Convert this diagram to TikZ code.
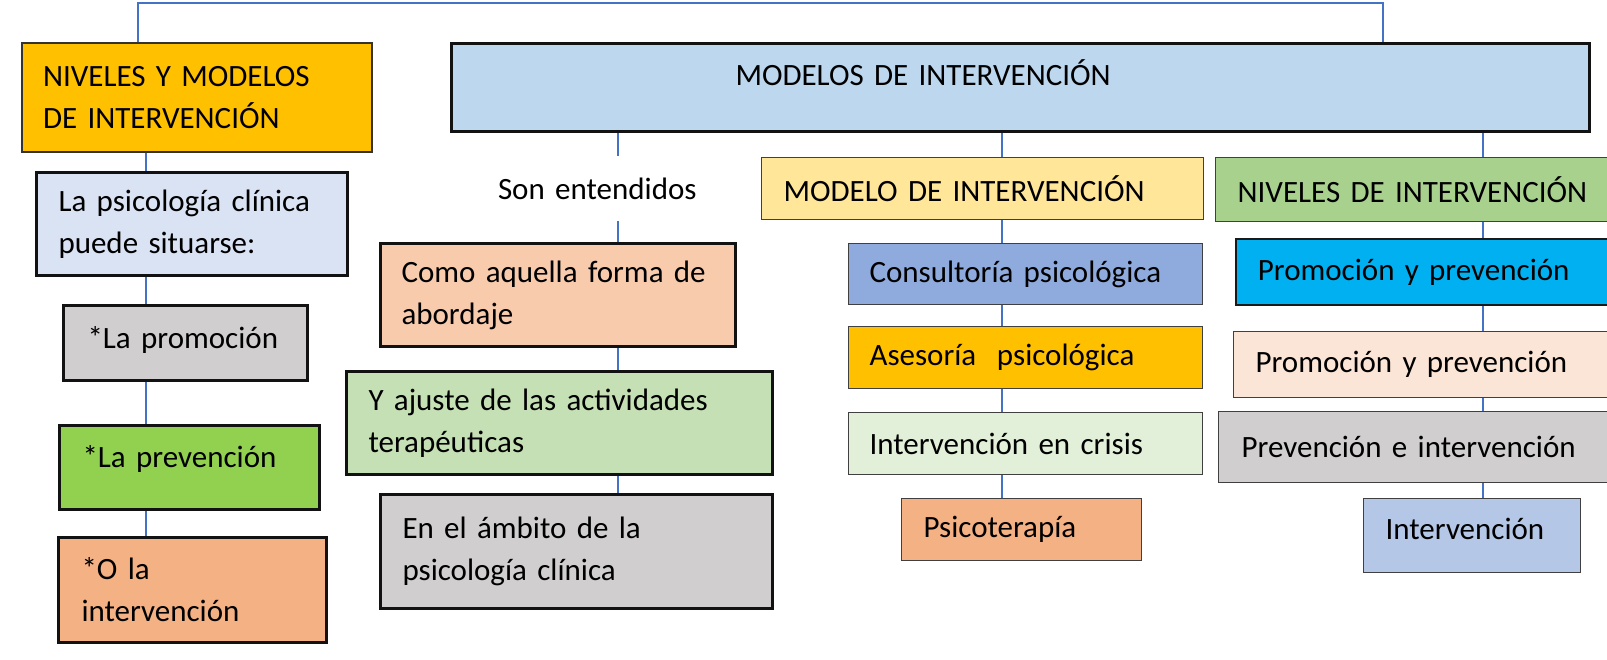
\documentclass[tikz,border=0pt]{standalone}
\usepackage{fontspec}
\setmainfont{Carlito}
\definecolor{linkblue}{HTML}{4472C4}
\definecolor{gold}{HTML}{FFC000}
\definecolor{paleblue}{HTML}{DAE3F3}
\definecolor{greybox}{HTML}{D0CECE}
\definecolor{limegreen}{HTML}{92D050}
\definecolor{salmon}{HTML}{F4B183}
\definecolor{skyblue}{HTML}{BDD7EE}
\definecolor{peach}{HTML}{F8CBAD}
\definecolor{sagegreen}{HTML}{C5E0B4}
\definecolor{butter}{HTML}{FFE699}
\definecolor{steelblue}{HTML}{8FAADC}
\definecolor{mintgreen}{HTML}{E2F0D9}
\definecolor{leafgreen}{HTML}{A9D18E}
\definecolor{cyanbox}{HTML}{00B0F0}
\definecolor{blush}{HTML}{FBE5D6}
\definecolor{lavblue}{HTML}{B4C7E7}
\tikzset{
  box/.style={rectangle, anchor=north west, align=left, inner ysep=0pt, fill=#1,
    font=\fontsize{15.5pt}{21pt}\selectfont},
  heavy/.style={box=#1, draw=black!93, line width=1.5pt},
  light/.style={box=#1, draw=black!75, line width=0.6pt},
  link/.style={draw=linkblue, line width=0.75pt},
}
\begin{document}
\begin{tikzpicture}[x=0.5pt,y=-0.5pt]
\clip (0,0) rectangle (1607,659);
% left column
\node[box=gold, draw=black!80, line width=1pt, inner xsep=10.5pt, minimum height=54.5pt, text width=154pt] (nivmod) at (21,42) {NIVELES Y MODELOS\\DE INTERVENCIÓN};
\node[heavy=paleblue, inner xsep=11pt, minimum height=51.5pt, text width=133.5pt] (psico) at (35,171) {La psicología clínica\\puede situarse:};
\node[heavy=greybox, inner xsep=12pt, minimum height=37.5pt, text width=98pt, text depth=6pt] (promo) at (62,304) {*La promoción};
\node[heavy=limegreen, inner xsep=11.5pt, minimum height=42pt, text width=107pt, text depth=11pt] (preve) at (58,424) {*La prevención};
\node[heavy=salmon, inner xsep=11.5pt, minimum height=52.5pt, text width=111pt] (inter) at (57,536) {*O la\\intervención};
% main box
\node[heavy=skyblue, inner xsep=142pt, minimum height=44pt, text width=285pt, text depth=15pt] (modelos) at (450,42) {MODELOS DE INTERVENCIÓN};
% middle column
\node[align=left, text width=120pt, minimum height=32.5pt, inner sep=0pt, font=\fontsize{15.5pt}{21pt}\selectfont] (son) at (618,188.5) {Son entendidos};
\node[heavy=peach, inner xsep=10.5pt, minimum height=51.5pt, text width=156.5pt] (como) at (379,242) {Como aquella forma de\\abordaje};
\node[heavy=sagegreen, inner xsep=11pt, minimum height=51.5pt, text width=191pt] (ajuste) at (345,370) {Y ajuste de las actividades\\terapéuticas};
\node[heavy=greybox, inner xsep=11pt, minimum height=57pt, text width=174pt] (ambito) at (379,493) {En el ámbito de la\\psicología clínica};
% model column
\node[light=butter, inner xsep=11pt, minimum height=31pt, text width=199pt] (modelo) at (761,157) {MODELO DE INTERVENCIÓN};
\node[light=steelblue, inner xsep=10.5pt, minimum height=30.5pt, text width=156pt] (consul) at (848,243) {Consultoría psicológica};
\node[light=gold, inner xsep=10.5pt, minimum height=31pt, text width=156pt] (asesor) at (848,326) {Asesoría~ psicológica};
\node[light=mintgreen, inner xsep=10.5pt, minimum height=31pt, text width=156pt] (crisis) at (848,412) {Intervención en crisis};
\node[light=salmon, inner xsep=11pt, minimum height=31pt, text width=98pt] (psicot) at (901,498) {Psicoterapía};
% levels column
\node[light=leafgreen, inner xsep=11pt, minimum height=32pt, text width=190.5pt] (niveles) at (1215,157) {NIVELES DE INTERVENCIÓN};
\node[box=cyanbox, draw=black!90, line width=0.9pt, inner xsep=11pt, minimum height=33pt, text width=180.5pt] (promoA) at (1235,238) {Promoción y prevención};
\node[light=blush, inner xsep=11pt, minimum height=33pt, text width=181.5pt] (promoB) at (1233,331) {Promoción y prevención};
\node[light=greybox, inner xsep=11.5pt, minimum height=35.5pt, text width=188pt] (prevint) at (1218,411) {Prevención e intervención};
\node[light=lavblue, inner xsep=11pt, minimum height=37pt, text width=86.5pt, text depth=7pt] (interv) at (1363,498) {Intervención};
% connectors
\coordinate (topL) at (138,3);
\coordinate (topR) at (1383,3);
\coordinate (colL) at (146,0);
\coordinate (colM) at (618,0);
\coordinate (colR) at (1002,0);
\coordinate (colN) at (1483,0);
\draw[link] (nivmod.north -| topL) -- (topL) -- (topR) -- (modelos.north -| topR);
\draw[link] (nivmod.south -| colL) -- (psico.north -| colL);
\draw[link] (psico.south -| colL) -- (promo.north -| colL);
\draw[link] (promo.south -| colL) -- (preve.north -| colL);
\draw[link] (preve.south -| colL) -- (inter.north -| colL);
\draw[link] (modelos.south -| colM) -- (son.north);
\draw[link] (son.south) -- (como.north -| colM);
\draw[link] (como.south -| colM) -- (ajuste.north -| colM);
\draw[link] (ajuste.south -| colM) -- (ambito.north -| colM);
\draw[link] (modelos.south -| colR) -- (modelo.north -| colR);
\draw[link] (modelo.south -| colR) -- (consul.north -| colR);
\draw[link] (consul.south -| colR) -- (asesor.north -| colR);
\draw[link] (asesor.south -| colR) -- (crisis.north -| colR);
\draw[link] (crisis.south -| colR) -- (psicot.north -| colR);
\draw[link] (modelos.south -| colN) -- (niveles.north -| colN);
\draw[link] (niveles.south -| colN) -- (promoA.north -| colN);
\draw[link] (promoA.south -| colN) -- (promoB.north -| colN);
\draw[link] (promoB.south -| colN) -- (prevint.north -| colN);
\draw[link] (prevint.south -| colN) -- (interv.north -| colN);
\end{tikzpicture}
\end{document}
